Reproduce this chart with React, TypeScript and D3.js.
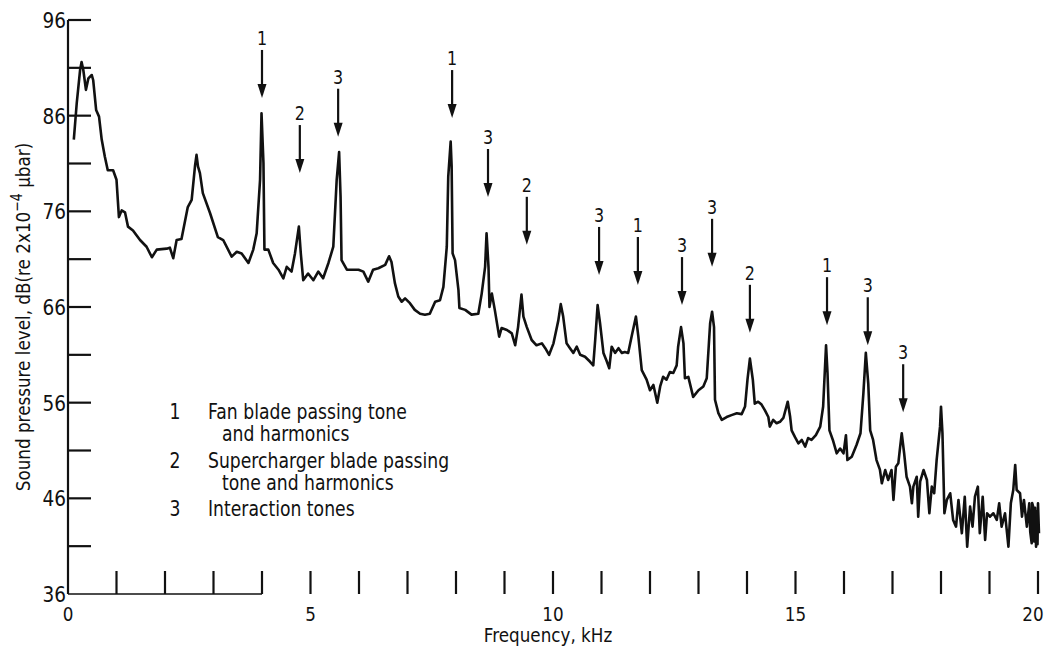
import React from "react";
import * as d3 from "d3";

// ---- Data (frequency kHz, sound pressure level dB) ----
const spectrum: [number, number][] = [
  [0.12, 83.5], [0.18, 87.3], [0.25, 90.8], [0.28, 91.6], [0.315, 90.8], [0.37, 88.7], [0.42, 89.9], [0.49, 90.25],
  [0.52, 89.7], [0.58, 86.6], [0.64, 85.9], [0.695, 83.5], [0.76, 81.7], [0.82, 80.3], [0.93, 80.3], [1.0, 79.3],
  [1.05, 75.4], [1.107, 76.1], [1.175, 75.9], [1.237, 74.4], [1.34, 74.0], [1.485, 73.0], [1.62, 72.3], [1.73, 71.2],
  [1.83, 72.0], [2.035, 72.1], [2.1, 72.2], [2.17, 71.1], [2.24, 73.0], [2.34, 73.1], [2.47, 76.45], [2.55, 77.2],
  [2.62, 80.8], [2.65, 81.9], [2.68, 80.7], [2.72, 80.0], [2.78, 77.9], [2.93, 75.8], [3.09, 73.3], [3.2, 73.0],
  [3.375, 71.26], [3.48, 71.78], [3.58, 71.6], [3.72, 70.6], [3.82, 72.0], [3.89, 73.7], [3.96, 79.3], [3.99, 86.25],
  [4.03, 81.05], [4.05, 72.0], [4.13, 72.0], [4.23, 70.6], [4.34, 69.9], [4.44, 69.0], [4.51, 70.2], [4.61, 69.7],
  [4.68, 71.6], [4.76, 74.4], [4.8, 71.6], [4.85, 68.8], [4.95, 69.5], [5.06, 68.8], [5.16, 69.7], [5.26, 69.0],
  [5.37, 70.6], [5.47, 72.3], [5.54, 79.3], [5.59, 82.2], [5.62, 77.5], [5.64, 70.9], [5.75, 69.9], [5.85, 69.9],
  [5.99, 69.9], [6.09, 69.7], [6.19, 68.65], [6.29, 69.9], [6.4, 70.05], [6.54, 70.4], [6.62, 71.3], [6.67, 70.7],
  [6.74, 68.5], [6.81, 67.1], [6.88, 66.55], [6.95, 66.9], [7.05, 66.4], [7.15, 65.7], [7.26, 65.3], [7.36, 65.2],
  [7.46, 65.3], [7.57, 66.55], [7.67, 66.7], [7.74, 68.1], [7.81, 72.3], [7.84, 79.6], [7.89, 83.3], [7.91, 80.7],
  [7.93, 71.6], [7.98, 70.9], [8.05, 67.8], [8.07, 65.9], [8.19, 65.7], [8.32, 65.2], [8.46, 65.3], [8.53, 67.4],
  [8.6, 70.2], [8.63, 73.7], [8.67, 70.2], [8.69, 66.0], [8.74, 67.4], [8.8, 65.7], [8.89, 62.9], [8.94, 63.8],
  [9.05, 63.6], [9.15, 63.25], [9.22, 62.0], [9.28, 63.9], [9.35, 67.3], [9.39, 65.0], [9.46, 63.9], [9.56, 62.55],
  [9.66, 62.0], [9.77, 62.2], [9.84, 61.7], [9.92, 61.0], [10.01, 62.2], [10.11, 64.6], [10.16, 66.3], [10.21, 65.0],
  [10.28, 62.2], [10.35, 61.7], [10.42, 61.2], [10.49, 61.85], [10.56, 61.0], [10.66, 60.8], [10.76, 60.3], [10.83, 59.9],
  [10.87, 62.55], [10.92, 66.2], [10.97, 64.3], [11.04, 61.2], [11.11, 60.3], [11.16, 59.6], [11.21, 61.85], [11.28, 61.2],
  [11.35, 61.7], [11.42, 61.2], [11.48, 61.3], [11.55, 61.2], [11.62, 62.9], [11.71, 65.0], [11.76, 62.9], [11.83, 59.4],
  [11.93, 58.4], [12.0, 57.3], [12.07, 57.85], [12.15, 56.0], [12.21, 57.7], [12.27, 58.7], [12.34, 58.4], [12.41, 59.2],
  [12.48, 59.1], [12.55, 59.9], [12.58, 61.85], [12.64, 63.9], [12.69, 62.2], [12.72, 58.55], [12.79, 58.7], [12.89, 56.6],
  [13.0, 57.3], [13.1, 57.7], [13.17, 58.55], [13.24, 64.3], [13.28, 65.5], [13.32, 63.9], [13.34, 56.3], [13.41, 54.9],
  [13.48, 54.2], [13.58, 54.5], [13.68, 54.7], [13.79, 54.9], [13.89, 54.8], [13.96, 55.6], [14.01, 58.4], [14.06, 60.6],
  [14.12, 58.4], [14.16, 55.9], [14.23, 56.1], [14.3, 55.8], [14.37, 55.2], [14.44, 54.5], [14.47, 53.5], [14.54, 54.2],
  [14.61, 53.85], [14.68, 54.0], [14.75, 54.4], [14.84, 56.1], [14.89, 54.5], [14.92, 53.1], [14.99, 52.4], [15.06, 51.75],
  [15.13, 52.1], [15.2, 51.4], [15.26, 52.3], [15.33, 52.1], [15.42, 52.6], [15.51, 53.5], [15.57, 55.6], [15.63, 62.0],
  [15.66, 59.1], [15.7, 53.1], [15.77, 52.1], [15.85, 50.7], [15.92, 51.2], [15.99, 50.7], [16.04, 52.6], [16.07, 50.0],
  [16.16, 50.35], [16.26, 51.6], [16.34, 52.8], [16.4, 57.0], [16.45, 61.2], [16.5, 58.0], [16.54, 53.1], [16.6, 52.1],
  [16.67, 50.0], [16.74, 49.0], [16.78, 47.57], [16.85, 48.96], [16.91, 47.92], [16.98, 48.96], [17.02, 45.83], [17.07, 49.31],
  [17.12, 49.66], [17.15, 51.05], [17.19, 52.8], [17.24, 50.71], [17.29, 48.26], [17.36, 47.22], [17.4, 45.48], [17.43, 47.22],
  [17.5, 48.26], [17.53, 44.08], [17.57, 47.74], [17.64, 48.96], [17.71, 47.92], [17.76, 44.44], [17.81, 47.22], [17.86, 46.53],
  [17.91, 50.0], [17.98, 53.49], [18.0, 55.58], [18.03, 52.8], [18.07, 44.44], [18.12, 45.83], [18.19, 46.53], [18.22, 45.13],
  [18.25, 43.74], [18.31, 43.04], [18.36, 45.83], [18.43, 42.35], [18.49, 46.17], [18.54, 40.95], [18.6, 45.13], [18.65, 43.04],
  [18.7, 46.17], [18.76, 47.22], [18.8, 42.35], [18.86, 46.17], [18.91, 41.65], [18.95, 44.44], [19.01, 44.08], [19.08, 44.44],
  [19.15, 43.74], [19.2, 45.48], [19.25, 43.04], [19.32, 44.44], [19.39, 40.95], [19.44, 45.48], [19.49, 46.87], [19.53, 49.49],
  [19.56, 46.87], [19.63, 46.53], [19.67, 44.08], [19.71, 45.83], [19.77, 43.04], [19.82, 45.48], [19.84, 42.5], [19.87, 41.3],
  [19.88, 45.5], [19.9, 45.13], [19.92, 41.5], [19.94, 45.0], [19.96, 40.95], [19.97, 44.6], [19.99, 41.2], [20.0, 45.48],
  [20.02, 42.35],
];

// Arrow annotations: label, frequency (kHz), level at arrow tip (dB)
const annotationLabels = ["1", "2", "3", "1", "3", "2", "3", "1", "3", "3", "2", "1", "3", "3"];
const annotationFreq = [4.0, 4.78, 5.57, 7.92, 8.66, 9.46, 10.95, 11.75, 12.66, 13.28, 14.06, 15.65, 16.49, 17.22];
const annotationTipDb = [87.85, 80.0, 83.8, 85.75, 77.5, 72.5, 69.35, 68.3, 66.2, 70.2, 63.3, 64.1, 62.0, 55.0];

// Axis ticks
const yTickLabels = [36, 46, 56, 66, 76, 86, 96];
const yMinorTicks = [41, 51, 61, 71, 81, 91];
const xTickValues = d3.range(1, 21);
const xTickLabels = [0, 5, 10, 15, 20];

// Legend
const legendNumbers = ["1", "2", "3"];
const legendText = [
  ["Fan blade passing tone", "and harmonics"],
  ["Supercharger blade passing", "tone and harmonics"],
  ["Interaction tones"],
];

const FONT = "'DejaVu Sans', sans-serif";
const INK = "#111";
const SX = 0.84;

type TProps = {
  x: number;
  y: number;
  size: number;
  anchor?: "start" | "middle" | "end";
  baseline?: string;
  rotate?: number;
  children: React.ReactNode;
};

function T({ x, y, size, anchor = "start", baseline, rotate = 0, children }: TProps) {
  return (
    <g transform={`translate(${x},${y}) rotate(${rotate}) scale(${SX},1)`}>
      <text x={0} y={0} fontSize={size} textAnchor={anchor} dominantBaseline={baseline} fill={INK}>
        {children}
      </text>
    </g>
  );
}

export default function App() {
  const x = d3.scaleLinear().domain([0, 20]).range([68, 1038]);
  const y = d3.scaleLinear().domain([36, 96]).range([594, 20]);
  const line = d3
    .line<[number, number]>()
    .x((d) => x(d[0]))
    .y((d) => y(d[1]));

  const tickLen = 23;
  const arrowLen = 48;

  return (
    <svg
      width={1047}
      height={650}
      style={{ position: "absolute", left: 0, top: 0, background: "#fff" }}
      fontFamily={FONT}
    >
      <rect width={1047} height={650} fill="#fff" />
      {/* y axis */}
      <line x1={x(0)} x2={x(0)} y1={y(36)} y2={y(96)} stroke={INK} strokeWidth={2.2} />
      {[...yTickLabels.slice(1), ...yMinorTicks].map((v) => (
        <line key={"yt" + v} x1={x(0)} x2={x(0) + tickLen} y1={y(v)} y2={y(v)} stroke={INK} strokeWidth={2.2} />
      ))}
      {yTickLabels.map((v) => (
        <T key={"yl" + v} x={x(0) - 2} y={y(v) + 8} size={22} anchor="end">
          {v}
        </T>
      ))}
      {/* x axis (baseline partly visible) */}
      <line x1={x(0)} x2={x(4)} y1={y(36)} y2={y(36)} stroke={INK} strokeWidth={1.6} />
      {xTickValues.map((v) => (
        <line key={"xt" + v} x1={x(v)} x2={x(v)} y1={y(36)} y2={y(36) - tickLen} stroke={INK} strokeWidth={2.2} />
      ))}
      {xTickLabels.map((v) => (
        <T key={"xl" + v} x={Math.min(x(v), 1033)} y={621} size={20} anchor="middle">
          {v}
        </T>
      ))}
      <T x={548} y={642} size={20} anchor="middle">
        Frequency, kHz
      </T>
      <T x={30} y={317} size={20} anchor="middle" rotate={-90}>
        Sound pressure level, dB(re 2x10
        <tspan dy={-8} fontSize={15}>−4</tspan>
        <tspan dy={8}> μbar)</tspan>
      </T>

      {/* spectrum */}
      <path d={line(spectrum) || ""} fill="none" stroke={INK} strokeWidth={2.6} strokeLinejoin="round" />

      {/* arrows */}
      {annotationLabels.map((lab, i) => {
        const ax = x(annotationFreq[i]);
        const tip = y(annotationTipDb[i]);
        const top = tip - arrowLen;
        return (
          <g key={"a" + i}>
            <line x1={ax} x2={ax} y1={top} y2={tip - 8} stroke={INK} strokeWidth={2.2} />
            <path d={`M${ax - 4.5},${tip - 14}L${ax + 4.5},${tip - 14}L${ax},${tip}Z`} fill={INK} />
            <T x={ax} y={top - 5} size={19} anchor="middle">
              {lab}
            </T>
          </g>
        );
      })}

      {/* legend */}
      {legendNumbers.map((n, i) => {
        const baseY = 419 + i * 48.5;
        return (
          <g key={"lg" + i}>
            <T x={175} y={baseY} size={20.5} anchor="middle">
              {n}
            </T>
            {legendText[i].map((t, j) => (
              <T key={j} x={j === 0 ? 208 : 222} y={baseY + j * 22} size={20.5}>
                {t}
              </T>
            ))}
          </g>
        );
      })}
    </svg>
  );
}
